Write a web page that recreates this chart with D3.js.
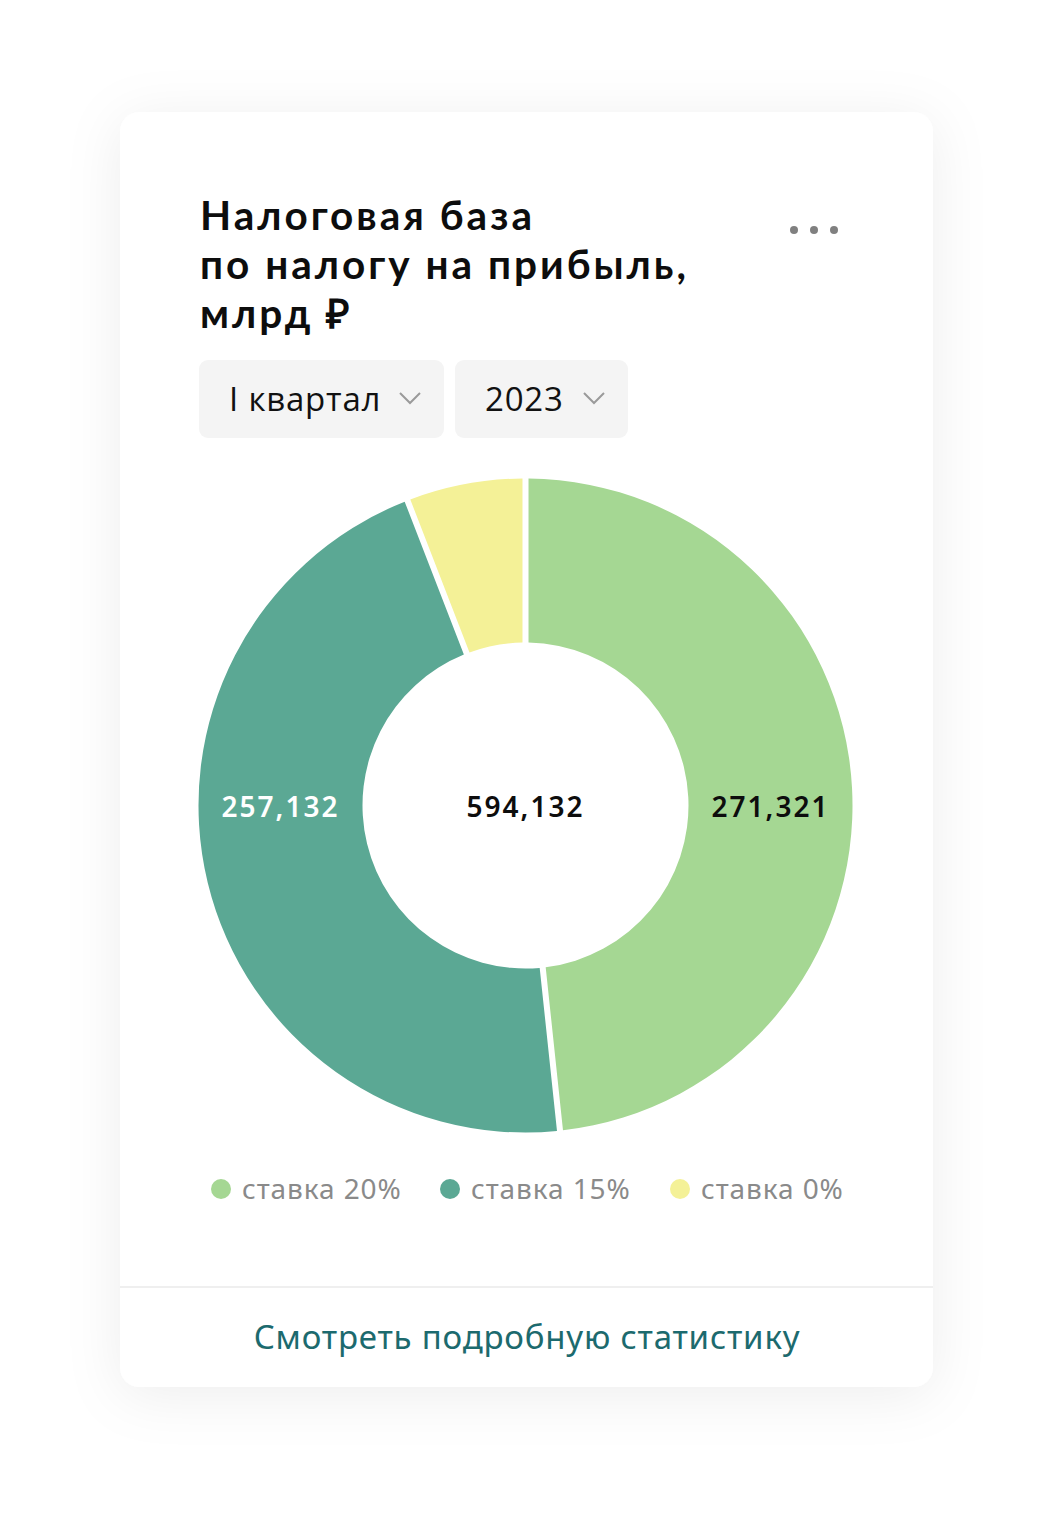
<!DOCTYPE html>
<html lang="ru">
<head>
<meta charset="utf-8">
<script src="https://cdn.jsdelivr.net/npm/d3@7"></script>
<style>
  html, body { margin: 0; padding: 0; background: #ffffff; }
  svg { display: block; }
</style>
</head>
<body>
<svg id="chart" width="1054" height="1516"></svg>
<script>
// Tax base by rate, bn ₽
const categories = ["ставка 20%", "ставка 15%", "ставка 0%"];
const values = [271321, 257132, 31700];
const colors = ["#a5d793", "#5ba894", "#f4f197"];
const labelValues = ["271,321", "257,132", null];
const totalLabel = "594,132";
const titleLines = ["Налоговая база", "по налогу на прибыль,", "млрд ₽"];
const periodOptions = ["I квартал", "2023"];
const linkText = "Смотреть подробную статистику";

const svg = d3.select("#chart");

// card with soft shadow
const defs = svg.append("defs");
const f = defs.append("filter").attr("id", "shadow")
  .attr("x", "-20%").attr("y", "-20%").attr("width", "140%").attr("height", "140%");
f.append("feDropShadow").attr("dx", 0).attr("dy", 8).attr("stdDeviation", 28)
  .attr("flood-color", "#000").attr("flood-opacity", 0.07);

const card = { x: 120, y: 112, w: 813, h: 1275 };
svg.append("rect")
  .attr("x", card.x).attr("y", card.y).attr("width", card.w).attr("height", card.h)
  .attr("rx", 20).attr("fill", "#fff").attr("filter", "url(#shadow)");

// title, one text element per line
svg.append("g").selectAll("text").data(titleLines).join("text")
  .attr("x", 200).attr("y", (d, i) => 230 + i * 49)
  .attr("font-family", "Lato, 'Open Sans', sans-serif")
  .attr("font-weight", 700).attr("font-size", 40.5).attr("letter-spacing", 3)
  .attr("fill", "#0d0d0d")
  .text(d => d);

// menu dots
svg.append("g").selectAll("circle").data([0, 1, 2]).join("circle")
  .attr("cx", d => 794 + d * 20).attr("cy", 230).attr("r", 4).attr("fill", "#808080");

// period selectors
const selectors = [
  { x: 199, w: 245 },
  { x: 455, w: 173 }
];
const sel = svg.append("g").selectAll("g").data(periodOptions).join("g")
  .attr("transform", (d, i) => `translate(${selectors[i].x},360)`);
sel.append("rect").attr("width", (d, i) => selectors[i].w).attr("height", 78)
  .attr("rx", 9).attr("fill", "#f4f4f4");
sel.append("text").attr("x", 30).attr("y", 51)
  .attr("font-family", "'Open Sans', sans-serif").attr("font-size", 33)
  .attr("letter-spacing", 0.8).attr("fill", "#111")
  .text(d => d);
sel.append("path")
  .attr("d", (d, i) => {
    const x = selectors[i].w - 44;
    return `M${x},33 L${x + 10},43 L${x + 20},33`;
  })
  .attr("fill", "none").attr("stroke", "#9a9a9a").attr("stroke-width", 2);

// donut
const cx = 525.5, cy = 805.5, rOuter = 327, rInner = 163;
const pie = d3.pie().sort(null).value(d => d).padAngle(0.0165);
const arc = d3.arc().innerRadius(rInner).outerRadius(rOuter);
const arcs = pie(values);

const g = svg.append("g").attr("transform", `translate(${cx},${cy})`);
g.selectAll("path").data(arcs).join("path")
  .attr("d", arc).attr("fill", (d, i) => colors[i]);

// value labels sit on the ring's horizontal midline
const midR = (rInner + rOuter) / 2;
const labelPos = [midR, -midR, null];
const labelColor = ["#0d0d0d", "#ffffff", null];
g.selectAll("text.val").data(labelValues.map((t, i) => ({ t, i })).filter(d => d.t))
  .join("text").attr("class", "val")
  .attr("x", d => labelPos[d.i]).attr("y", 11)
  .attr("text-anchor", "middle")
  .attr("font-family", "'Noto Sans', sans-serif").attr("font-weight", 600)
  .attr("font-size", 28).attr("letter-spacing", 2)
  .attr("fill", d => labelColor[d.i]).text(d => d.t);

g.append("text").attr("x", 0).attr("y", 11).attr("text-anchor", "middle")
  .attr("font-family", "'Noto Sans', sans-serif").attr("font-weight", 600)
  .attr("font-size", 28).attr("letter-spacing", 2)
  .attr("fill", "#0d0d0d").text(totalLabel);

// legend
const legendX = [221, 450, 680];
const lg = svg.append("g").selectAll("g").data(categories).join("g")
  .attr("transform", (d, i) => `translate(${legendX[i]},1189)`);
lg.append("circle").attr("r", 10).attr("fill", (d, i) => colors[i]);
lg.append("text").attr("x", 21).attr("y", 10)
  .attr("font-family", "'Noto Sans', sans-serif").attr("font-size", 28)
  .attr("letter-spacing", 0.9)
  .attr("fill", "#8a8a8a").text(d => d);

// footer divider and link
svg.append("rect").attr("x", card.x).attr("y", 1286).attr("width", card.w).attr("height", 2)
  .attr("fill", "#efefef");
svg.append("text").attr("x", 527).attr("y", 1349).attr("text-anchor", "middle")
  .attr("font-family", "'Noto Sans', sans-serif").attr("font-size", 33)
  .attr("letter-spacing", 0.8)
  .attr("fill", "#1c6a6e").text(linkText);
</script>
</body>
</html>
